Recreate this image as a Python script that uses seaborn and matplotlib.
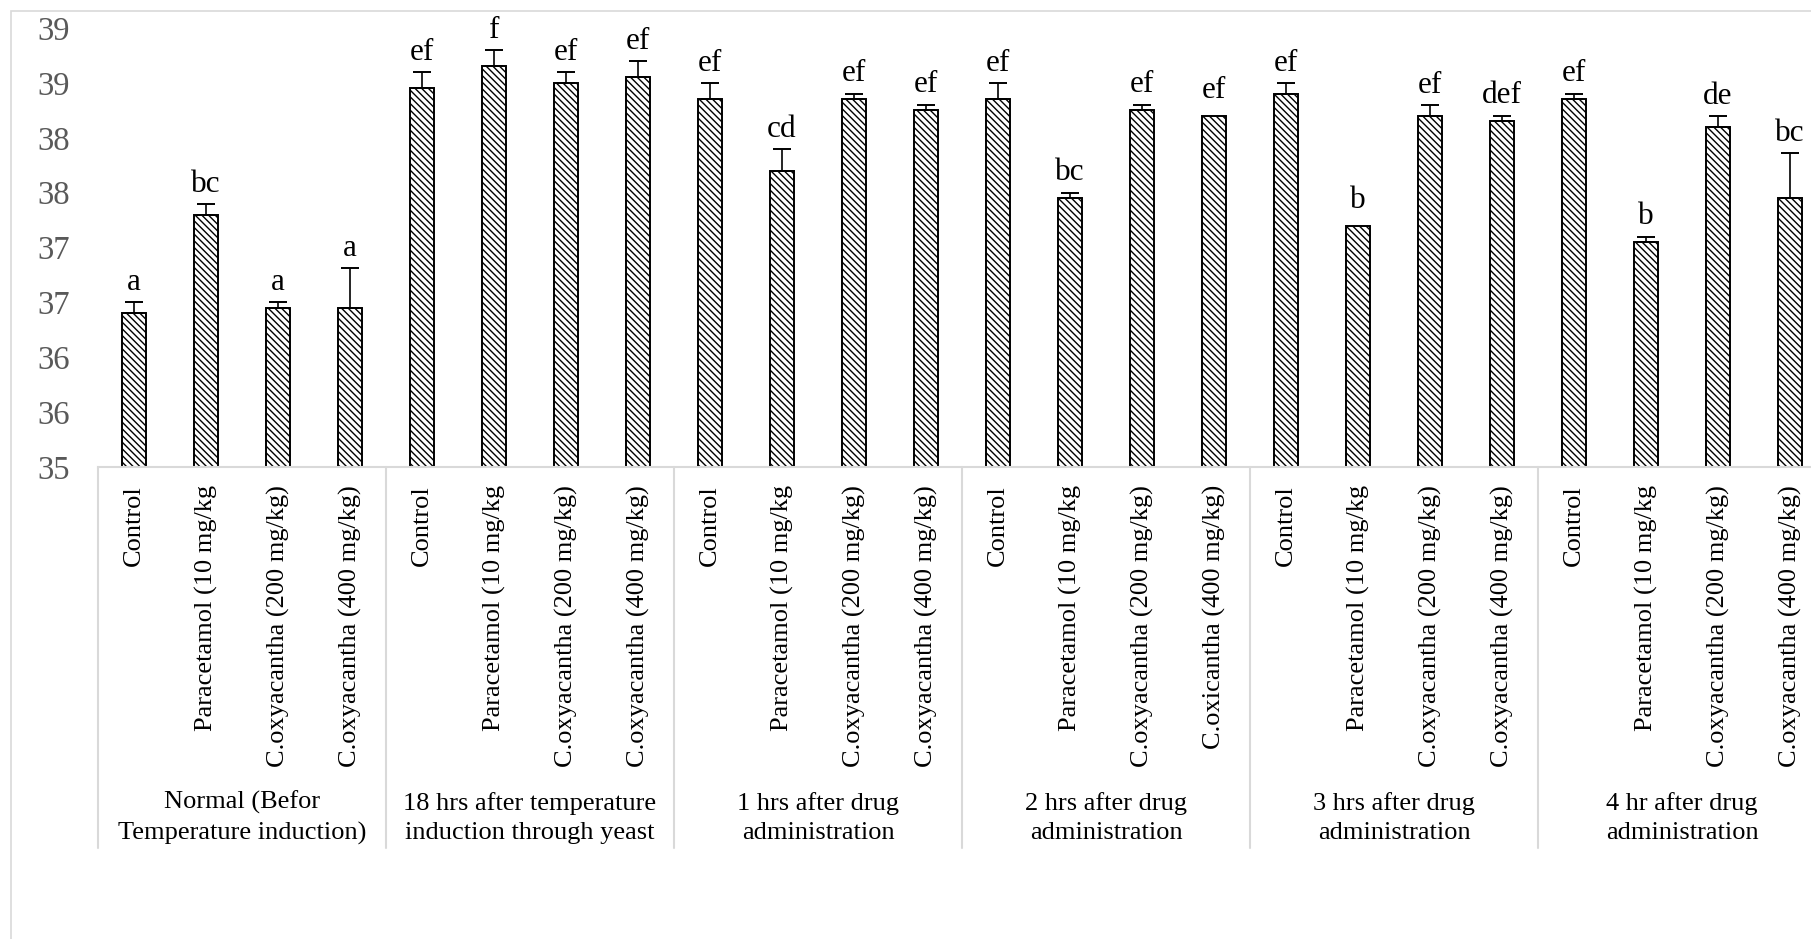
import numpy as np
import pandas as pd
import matplotlib
matplotlib.use("Agg")
import matplotlib.pyplot as plt
import matplotlib.transforms as mtransforms
from matplotlib.lines import Line2D
from matplotlib.patches import Rectangle
from matplotlib.ticker import MultipleLocator, FuncFormatter
import seaborn as sns

# Rectal temperature (deg C) per time point and treatment group
time_points = [
    "Normal (Befor\nTemperature induction)",
    "18 hrs after temperature\ninduction through yeast",
    "1 hrs after drug\nadministration",
    "2 hrs after drug\nadministration",
    "3 hrs after drug\nadministration",
    "4 hr after drug\nadministration",
]
treatment_labels = [
    "Control", "Paracetamol (10 mg/kg", "C.oxyacantha (200 mg/kg)", "C.oxyacantha (400 mg/kg)",
    "Control", "Paracetamol (10 mg/kg", "C.oxyacantha (200 mg/kg)", "C.oxyacantha (400 mg/kg)",
    "Control", "Paracetamol (10 mg/kg", "C.oxyacantha (200 mg/kg)", "C.oxyacantha (400 mg/kg)",
    "Control", "Paracetamol (10 mg/kg", "C.oxyacantha (200 mg/kg)", "C.oxicantha (400 mg/kg)",
    "Control", "Paracetamol (10 mg/kg", "C.oxyacantha (200 mg/kg)", "C.oxyacantha (400 mg/kg)",
    "Control", "Paracetamol (10 mg/kg", "C.oxyacantha (200 mg/kg)", "C.oxyacantha (400 mg/kg)",
]
mean_temp = [
    36.40, 37.30, 36.45, 36.45,
    38.45, 38.65, 38.50, 38.55,
    38.35, 37.70, 38.35, 38.25,
    38.35, 37.45, 38.25, 38.20,
    38.40, 37.20, 38.20, 38.15,
    38.35, 37.05, 38.10, 37.45,
]
sem_temp = [
    0.10, 0.10, 0.05, 0.36,
    0.15, 0.15, 0.10, 0.15,
    0.15, 0.20, 0.05, 0.05,
    0.15, 0.05, 0.05, 0.00,
    0.10, 0.00, 0.10, 0.05,
    0.05, 0.05, 0.10, 0.41,
]
sig_letters = [
    "a", "bc", "a", "a",
    "ef", "f", "ef", "ef",
    "ef", "cd", "ef", "ef",
    "ef", "bc", "ef", "ef",
    "ef", "b", "ef", "def",
    "ef", "b", "de", "bc",
]

n_per_group = 4
group_of_bar = [time_points[i // n_per_group] for i in range(len(mean_temp))]
bar_key = [f"{g}|{t}|{i}" for i, (g, t) in enumerate(zip(group_of_bar, treatment_labels))]
df = pd.DataFrame({"bar": bar_key, "group": group_of_bar,
                   "treatment": treatment_labels, "temp": mean_temp, "sem": sem_temp})

sns.set_style("white")
plt.rcParams["font.family"] = ["Liberation Serif", "DejaVu Serif"]
plt.rcParams["hatch.linewidth"] = 1.0
plt.rcParams["hatch.color"] = "black"

W, H, DPI = 1811, 939, 100
fig = plt.figure(figsize=(W / DPI, H / DPI), dpi=DPI)
fig.patch.set_facecolor("white")

ax_left, ax_bottom_px, ax_top_px = 98, 467, 28
bar_step = 72
ax = fig.add_axes([ax_left / W, 1 - ax_bottom_px / H,
                   bar_step * len(mean_temp) / W, (ax_bottom_px - ax_top_px) / H])

sns.barplot(data=df, x="bar", y="temp", order=bar_key, errorbar=None,
            color="white", edgecolor="black", linewidth=1.4, width=0.32, ax=ax,
            zorder=2)
for p in ax.patches:
    p.set_facecolor("white")
    p.set_hatch("\\\\\\\\\\")
    p.set_edgecolor("black")

ax.set_ylim(35, 39)
ax.set_xlim(-0.5, len(mean_temp) - 0.5)

# Error bars (upper half only, "plus" direction)
xpos = np.arange(len(mean_temp))
means = np.asarray(mean_temp)
sems = np.asarray(sem_temp)
has_err = sems > 0
ax.errorbar(xpos[has_err], means[has_err],
            yerr=[np.zeros(has_err.sum()), sems[has_err]],
            fmt="none", ecolor="black", elinewidth=1.2, capsize=6.5, capthick=1.4, zorder=3)

# Significance letters above each bar (clear of the error bar)
for x, m, s, lab in zip(xpos, means, sems, sig_letters):
    y_top = ax.transData.transform((x, m))[1]
    y_cap = ax.transData.transform((x, m + s))[1]
    y_lab = max(y_top + 18, y_cap + 12)
    off_pt = (y_lab - y_top) * 72 / DPI
    ax.annotate(lab, xy=(x, m), xytext=(0, off_pt), textcoords="offset points",
                ha="center", va="baseline", fontsize=22.5, color="black", zorder=4)

# Y axis: 0.5 steps shown with whole-number format
ax.yaxis.set_major_locator(MultipleLocator(0.5))
ax.yaxis.set_major_formatter(FuncFormatter(lambda v, _: f"{int(np.floor(v + 0.5))}"))
ax.tick_params(axis="y", length=0, pad=20, labelsize=23.5, labelcolor="#595959")

ax.set_xticks(xpos)
ax.set_xticklabels(treatment_labels, rotation=90, ha="center", va="top")
ax.tick_params(axis="x", length=0, pad=13, labelsize=19, labelcolor="black")
ax.set_xlabel("")
ax.set_ylabel("")

for side in ["left", "right", "top"]:
    ax.spines[side].set_visible(False)
ax.spines["bottom"].set_color("#d9d9d9")
ax.spines["bottom"].set_linewidth(1.5)
ax.grid(False)

# Group dividers and multi-level category labels
trans = mtransforms.blended_transform_factory(ax.transData, fig.transFigure)
y_div_top = 1 - ax_bottom_px / H
y_div_bot = 1 - 848 / H
for b in np.arange(-0.5, len(mean_temp), n_per_group):
    ax.add_line(Line2D([b, b], [y_div_top, y_div_bot], transform=trans,
                       color="#d9d9d9", lw=1.5, clip_on=False))
for gi, g in enumerate(time_points):
    cx = gi * n_per_group + (n_per_group - 1) / 2
    ax.text(cx, 1 - 818 / H, g, transform=trans, ha="center", va="center",
            fontsize=19, linespacing=1.45, color="black", clip_on=False)

# Chart area border
fig.add_artist(Rectangle((11 / W, -0.1), 1.2, 1 - 11 / H + 0.1, transform=fig.transFigure,
                         fill=False, edgecolor="#d9d9d9", lw=1.2))

fig.savefig("out.png", dpi=DPI, facecolor="white")
